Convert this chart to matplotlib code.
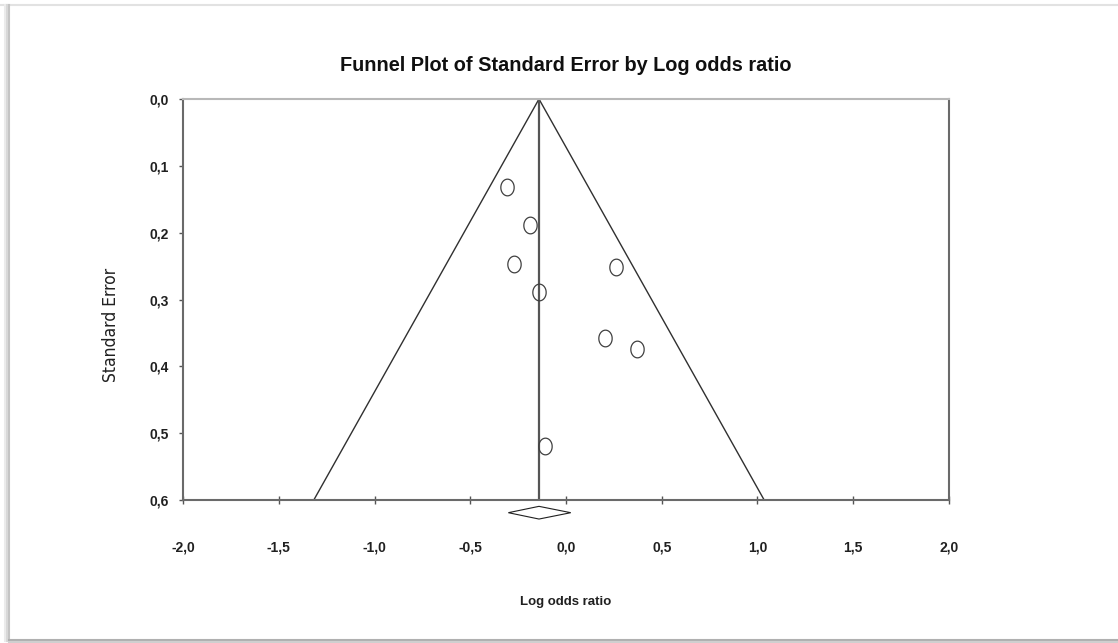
import matplotlib
matplotlib.use("Agg")

import matplotlib.pyplot as plt
import numpy as np
from matplotlib.lines import Line2D
from matplotlib.path import Path
from matplotlib.patches import Polygon


# study estimates
log_or = [-0.310, -0.188, -0.273, 0.261, -0.139, 0.204, 0.369, -0.110]
std_err = [0.131, 0.189, 0.247, 0.252, 0.289, 0.357, 0.374, 0.519]

# pooled estimate and its confidence interval
pooled = -0.141
pooled_low = -0.301
pooled_high = 0.025

x_ticks = [-2.0, -1.5, -1.0, -0.5, 0.0, 0.5, 1.0, 1.5, 2.0]
y_ticks = [0.0, 0.1, 0.2, 0.3, 0.4, 0.5, 0.6]
se_max = 0.6


def comma(v):
    return f"{v:.1f}".replace(".", ",")


fig = plt.figure(figsize=(11.18, 6.43), dpi=100)
ax = fig.add_axes([0.1637, 0.2224, 0.6851, 0.6236])

# funnel edges and the pooled line
ax.plot([pooled - 1.96 * se_max, pooled, pooled + 1.96 * se_max],
        [se_max, 0.0, se_max], color="#303030", lw=1.0)
ax.plot([pooled, pooled], [0.0, se_max], color="#555555", lw=1.6)

# slightly tall open circles
t = np.linspace(0, 2 * np.pi, 60)
ring = Path(np.column_stack([0.8 * np.cos(t), np.sin(t)]))
ax.plot(log_or, std_err, linestyle="none", marker=ring, markersize=12,
        markerfacecolor="none", markeredgecolor="#404040", markeredgewidth=0.9)

# diamond for the pooled estimate under the axis
h = 0.0095
dy = 0.619
diamond = Polygon([[pooled_low, dy], [pooled, dy - h], [pooled_high, dy], [pooled, dy + h]],
                  closed=True, facecolor="white", edgecolor="#202020", lw=0.8, clip_on=False)
ax.add_patch(diamond)

ax.set_xlim(-2.0, 2.0)
ax.set_ylim(se_max, 0.0)

ax.set_xticks(x_ticks)
ax.set_xticklabels([comma(v) for v in x_ticks])
ax.set_yticks(y_ticks)
ax.set_yticklabels([comma(v) for v in y_ticks])

for lab in ax.get_xticklabels() + ax.get_yticklabels():
    lab.set_fontfamily("Liberation Sans")
    lab.set_fontweight("bold")
    lab.set_fontsize(10)
    lab.set_color("#202020")

ax.tick_params(axis="x", direction="inout", length=6, width=1.0, color="#555555", pad=26)
ax.tick_params(axis="y", direction="out", length=3, width=1.0, color="#555555", pad=7)

for side in ["left", "bottom", "right"]:
    ax.spines[side].set_color("#6a6a6a")
    ax.spines[side].set_linewidth(1.5)
ax.spines["top"].set_color("#b8b8b8")
ax.spines["top"].set_linewidth(1.5)

ax.set_xlabel("Log odds ratio", fontfamily="Liberation Sans", fontweight="bold",
              fontsize=9.5, color="#202020", labelpad=30)
fig.text(0.0993, 0.495, "Standard Error", rotation=90,
         ha="center", va="center", fontsize=12.5, color="#202020",
         family="DejaVu Sans", fontstretch="condensed")

fig.text(0.5063, 0.898, "Funnel Plot of Standard Error by Log odds ratio",
         ha="center", va="center", fontfamily="Liberation Sans",
         fontweight="bold", fontsize=14.3, color="#101010")

# page frame with soft shadow on the left and bottom
W, H = 1118.0, 643.0
fig.add_artist(Line2D([0, 1], [1 - 5 / H, 1 - 5 / H], color="#e2e2e2", lw=1.5))
for off, col in [(0, "#c4c4c4"), (2, "#d8d8d8"), (4, "#ebebeb")]:
    x = (9 - off) / W
    fig.add_artist(Line2D([x, x], [1 - 5 / H, 1 - 641 / H], color=col, lw=1.5))
for off, col in [(0, "#b0b0b0"), (2, "#cfcfcf")]:
    y = 1 - (640 + off) / H
    fig.add_artist(Line2D([9 / W, 1], [y, y], color=col, lw=1.5))

fig.savefig("out.png", dpi=100)
